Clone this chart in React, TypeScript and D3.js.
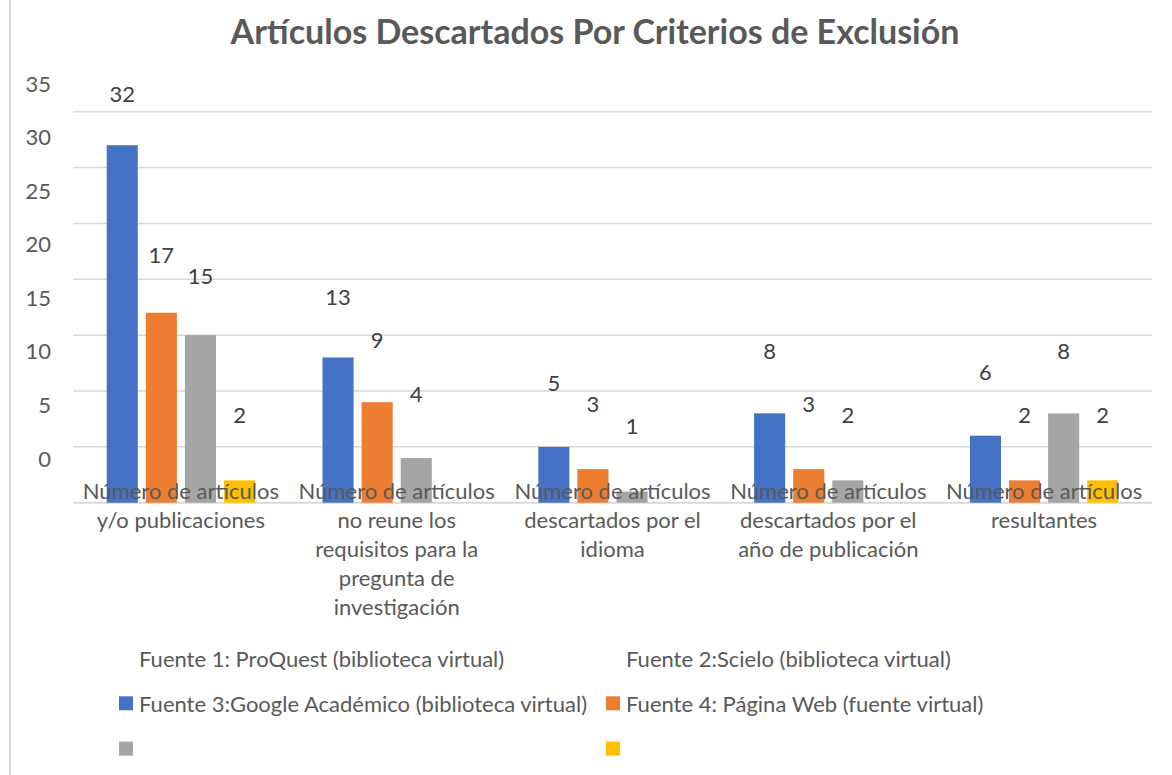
import React from 'react'
import * as d3 from 'd3'

const title = 'Artículos Descartados Por Criterios de Exclusión'

const categories = ['c1', 'c2', 'c3', 'c4', 'c5']
const categoryLines = [
  ['Número de artículos', 'y/o publicaciones'],
  ['Número de artículos', 'no reune los', 'requisitos para la', 'pregunta de', 'investigación'],
  ['Número de artículos', 'descartados por el', 'idioma'],
  ['Número de artículos', 'descartados por el', 'año de publicación'],
  ['Número de artículos', 'resultantes'],
]

const seriesBlue = [32, 13, 5, 8, 6]
const seriesOrange = [17, 9, 3, 3, 2]
const seriesGray = [15, 4, 1, 2, 8]
const seriesYellow = [2, null, null, null, 2]
const barSeries = [seriesBlue, seriesOrange, seriesGray, seriesYellow]

const yTicks = [0, 5, 10, 15, 20, 25, 30, 35]

const legendLabels = [
  'Fuente 1: ProQuest (biblioteca virtual)',
  'Fuente 2:Scielo (biblioteca virtual)',
  'Fuente 3:Google Académico (biblioteca virtual)',
  'Fuente 4: Página Web (fuente virtual)',
  '',
  '',
]

const W = 1172
const H = 775
const FONT = 'Lato, "Open Sans", sans-serif'
const TEXT = '#595959'
const barColors = ['#4472C4', '#ED7D31', '#A5A5A5', '#FFC000']
// first two legend entries have no swatch in the original
const legendColors = [null, null, ...barColors]

export default function App() {
  const x = d3.scaleBand().domain(categories).range([73, 1152])
  const groupW = 148.4
  const inner = d3.scaleBand<number>().domain(d3.range(barSeries.length)).range([0, groupW]).paddingInner(0.205)
  const y = d3.scaleLinear().domain([0, 35]).range([502.7, 111.7])
  // the tick/value labels sit on their own (shifted) scale in the original
  const yText = d3.scaleLinear().domain([0, 35]).range([458, 83.3])

  const groupX = (c: string) => (x(c) as number) + (x.bandwidth() - groupW) / 2

  return (
    <svg width={W} height={H} style={{ position: 'absolute', left: 0, top: 0, background: '#fff' }} fontFamily={FONT}>
      <rect x={0} y={0} width={W} height={H} fill="#fff" />
      <line x1={10} x2={10} y1={0} y2={H} stroke="#d9d9d9" strokeWidth={2} />

      <text x={595} y={30} textAnchor="middle" dominantBaseline="central" fontSize={34} fontWeight={700} fill={TEXT}>
        {title}
      </text>

      {yTicks.map(t => (
        <g key={t}>
          <line x1={73} x2={1152} y1={y(t)} y2={y(t)} stroke="#d9d9d9" strokeWidth={t === 0 ? 2 : 1.5} />
          <text x={51} y={yText(t)} textAnchor="end" dominantBaseline="central" fontSize={22} fill={TEXT}>{t}</text>
        </g>
      ))}

      {barSeries.map((vals, si) => (
        <g key={si}>
          {vals.map((v, ci) => v == null ? null : (
            <rect key={ci}
              x={groupX(categories[ci]) + (inner(si) as number)}
              y={y(v)}
              width={inner.bandwidth()}
              height={y(0) - y(v)}
              fill={barColors[si]} />
          ))}
        </g>
      ))}

      {barSeries.map((vals, si) => (
        <g key={'l' + si}>
          {vals.map((v, ci) => v == null ? null : (
            <text key={ci}
              x={groupX(categories[ci]) + (inner(si) as number) + inner.bandwidth() / 2}
              y={yText(v) - 22}
              textAnchor="middle" dominantBaseline="central" fontSize={22} fill="#404040">{v}</text>
          ))}
        </g>
      ))}

      {categories.map((c, ci) => (
        <text key={c} x={(x(c) as number) + x.bandwidth() / 2} textAnchor="middle" fontSize={22} fill={TEXT}>
          {categoryLines[ci].map((ln, li) => (
            <tspan key={li} x={(x(c) as number) + x.bandwidth() / 2} y={490 + li * 29.2} dominantBaseline="central">{ln}</tspan>
          ))}
        </text>
      ))}

      {legendLabels.map((lab, i) => {
        const col = i % 2
        const row = Math.floor(i / 2)
        const lx = col === 0 ? 119 : 606
        const ly = 658 + row * 45.3
        const color = legendColors[i]
        return (
          <g key={i}>
            {color && <rect x={lx} y={ly - 7} width={14} height={14} fill={color} />}
            <text x={lx + 20} y={ly} dominantBaseline="central" fontSize={22} fill={TEXT}>{lab}</text>
          </g>
        )
      })}
    </svg>
  )
}
